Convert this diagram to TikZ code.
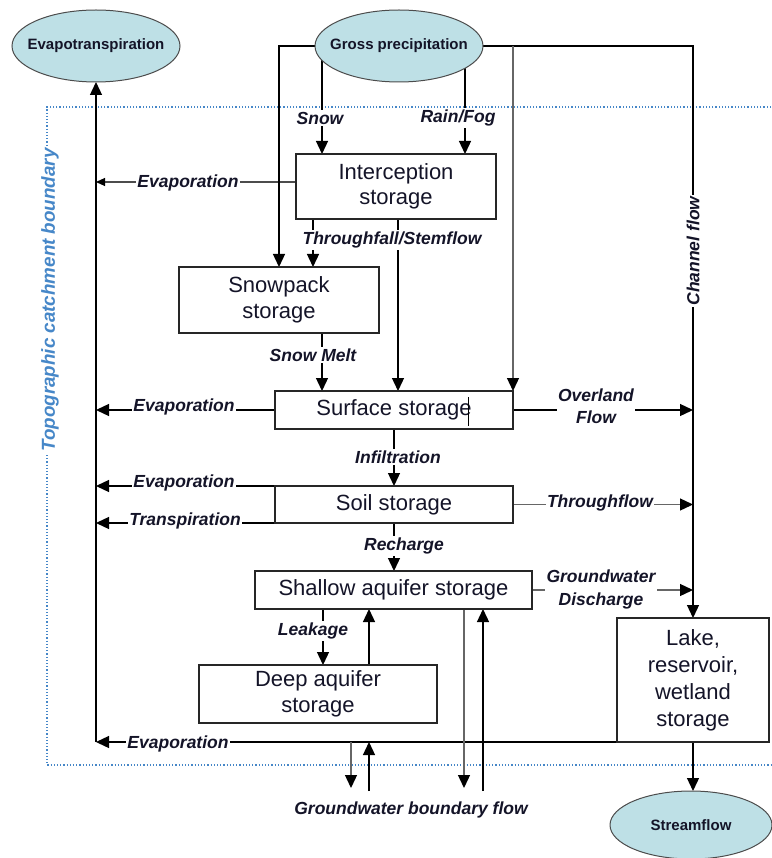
\documentclass[tikz,border=0pt]{standalone}
\usepackage{fontspec}
\setmainfont{Liberation Sans}
\usetikzlibrary{arrows.meta,shapes.geometric}
\definecolor{ellfill}{RGB}{190,224,230}
\definecolor{bndblue}{RGB}{70,135,200}
\definecolor{txt}{RGB}{20,20,40}
\pgfdeclarelayer{bg}
\pgfsetlayers{bg,main}
\begin{document}
\begin{tikzpicture}[x=1pt,y=-1pt,
  box/.style={draw=black!85, line width=1.3pt, fill=white, inner sep=0pt, outer sep=0pt, align=center, font=\fontsize{22}{25.5}\selectfont, text=txt},
  oval/.style={ellipse, draw=black!70, line width=1pt, fill=ellfill, inner sep=0pt, outer sep=0pt},
  ovaltext/.style={font=\bfseries\fontsize{15}{18}\selectfont, text=txt, inner sep=0pt},
  lbl/.style={fill=white, inner sep=1.5pt, font=\bfseries\itshape\fontsize{17.5}{22}\selectfont, text=txt, align=center},
  flow/.style={line width=1.3pt, draw=black, -{Triangle[length=13pt,width=12pt]}},
  smallflow/.style={line width=1.1pt, draw=black!70, -{Triangle[length=9pt,width=8pt,color=black]}},
  greyflow/.style={line width=1.3pt, draw=black!60, -{Triangle[length=13pt,width=12pt,color=black]}},
  bnd/.style={draw=bndblue, line width=1.2pt, dotted}
]
\useasboundingbox (0,0) rectangle (771,858);

% ellipses
\node[oval, minimum width=168pt, minimum height=72pt, label={[ovaltext]center:Evapotranspiration}] (evap) at (96,46) {};
\node[oval, minimum width=168pt, minimum height=72pt, label={[ovaltext]center:Gross precipitation}] (gross) at (399,46) {};
\node[oval, minimum width=162pt, minimum height=68pt, label={[ovaltext]center:Streamflow}] (stream) at (691,825) {};

% storage boxes
\node[box, minimum width=200pt, minimum height=65pt] (inter) at (396,186.5) {Interception\\storage};
\node[box, minimum width=200pt, minimum height=66pt] (snowbox) at (279,300) {Snowpack\\storage};
\node[box, minimum width=238pt, minimum height=38pt] (surf) at (394,410) {Surface storage};
\node[box, minimum width=238pt, minimum height=37pt] (soil) at (394,504.5) {Soil storage};
\node[box, minimum width=277pt, minimum height=38pt] (shallow) at (393.5,590) {Shallow aquifer storage};
\node[box, minimum width=238pt, minimum height=58pt] (deep) at (318,694) {Deep aquifer\\storage};
\node[box, minimum width=152pt, minimum height=124pt, font=\fontsize{22}{27}\selectfont] (lake) at (693,680) {Lake,\\reservoir,\\wetland\\storage};

% column / row helpers
\coordinate (cSnow) at (322,0);
\coordinate (cRain) at (465,0);
\coordinate (cTSa) at (313,0);
\coordinate (cTSb) at (398,0);
\coordinate (cLeak) at (323,0);
\coordinate (cUp) at (369,0);
\coordinate (cDownA) at (464,0);
\coordinate (cUpB) at (483,0);
\coordinate (cDownB) at (351,0);
\coordinate (rDown) at (0,788);
\coordinate (rUp) at (0,791);
\coordinate (bTR) at (771,107);
\coordinate (bTL) at (47,107);
\coordinate (bBL) at (47,765);
\coordinate (bBR) at (771,765);

\begin{pgfonlayer}{bg}
  % catchment boundary
  \draw[bnd] (bTR) -- (bTL) -- (bBL) -- (bBR);
  % evapotranspiration collector
  \draw[flow] (lake.south west -| evap.south) -- (evap.south);
  \draw[smallflow] ([yshift=4.5pt]inter.west) -- ([yshift=4.5pt]inter.west -| evap.south);
  \draw[flow] (surf.west) -- (surf.west -| evap.south);
  \draw[flow] (soil.north west) -- (soil.north west -| evap.south);
  \draw[flow] (soil.south west) -- (soil.south west -| evap.south);
  \draw[flow] (lake.south west) -- (lake.south west -| evap.south);
  % precipitation
  \draw[flow] (gross.west) -| (snowbox.north);
  \draw[flow] (gross.center -| cSnow) -- (inter.north -| cSnow);
  \draw[flow] (gross.center -| cRain) -- (inter.north -| cRain);
  \draw[flow] (gross.east) -| (lake.north);
  \draw[greyflow] (gross.east -| surf.north east) -- (surf.north east);
  % throughfall / stemflow
  \draw[flow] (inter.south -| cTSa) -- (snowbox.north -| cTSa);
  \draw[flow] (inter.south -| cTSb) -- (surf.north -| cTSb);
  % snow melt
  \draw[flow] (snowbox.south -| cSnow) -- (surf.north -| cSnow);
  % lateral flows to channel
  \draw[flow] (surf.east) -- (surf.east -| lake.north);
  \draw[greyflow] (soil.east) -- (soil.east -| lake.north);
  \draw[greyflow] (shallow.east) -- (shallow.east -| lake.north);
  % vertical flows
  \draw[flow] (surf.south) -- (surf.south |- soil.north);
  \draw[flow] (soil.south) -- (soil.south |- shallow.north);
  \draw[flow] (shallow.south -| cLeak) -- (deep.north -| cLeak);
  \draw[flow] (deep.north -| cUp) -- (shallow.south -| cUp);
  % groundwater boundary flow
  \draw[greyflow] (shallow.south -| cDownA) -- (rDown -| cDownA);
  \draw[flow] (rUp -| cUpB) -- (shallow.south -| cUpB);
  \draw[greyflow] (lake.south west -| cDownB) -- (rDown -| cDownB);
  \draw[flow] (rUp -| cUp) -- (lake.south west -| cUp);
  % streamflow
  \draw[flow] (lake.south) -- (lake.south |- stream.north);
\end{pgfonlayer}

% text cursor mark in the surface box
\draw[line width=0.9pt] ([xshift=-45pt,yshift=-6pt]surf.north east) -- ([xshift=-45pt,yshift=3pt]surf.south east);

% labels
\node[lbl] (lSnow) at (320,118) {Snow};
\node[lbl] (lRain) at (458,118) {Rain/Fog};
\node[lbl] (lEv1) at (188,183) {Evaporation};
\node[lbl] (lTS) at (392,240) {Throughfall/Stemflow};
\node[lbl] (lMelt) at (313,355) {Snow Melt};
\node[lbl] (lEv2) at (184,407) {Evaporation};
\node[lbl] (lOver) at (596,406) {Overland\\Flow};
\node[lbl] (lInf) at (398,457) {Infiltration};
\node[lbl] (lEv3) at (184,483) {Evaporation};
\node[lbl] (lTr) at (185,521) {Transpiration};
\node[lbl] (lThr) at (600,503) {Throughflow};
\node[lbl] (lRech) at (404,546) {Recharge};
\node[lbl, font=\bfseries\itshape\fontsize{17.5}{23}\selectfont] (lGWD) at (601,589) {Groundwater\\Discharge};
\node[lbl] (lLeak) at (313,631) {Leakage};
\node[lbl] (lEv4) at (178,744) {Evaporation};
\node[lbl] (lGWB) at (411,810) {Groundwater boundary flow};
\node[lbl, rotate=90] (lChan) at (693,251) {Channel flow};
\node[lbl, rotate=90, text=bndblue, font=\bfseries\itshape\fontsize{18.8}{22}\selectfont] (lTopo) at (50,300) {Topographic catchment boundary};
\end{tikzpicture}
\end{document}
